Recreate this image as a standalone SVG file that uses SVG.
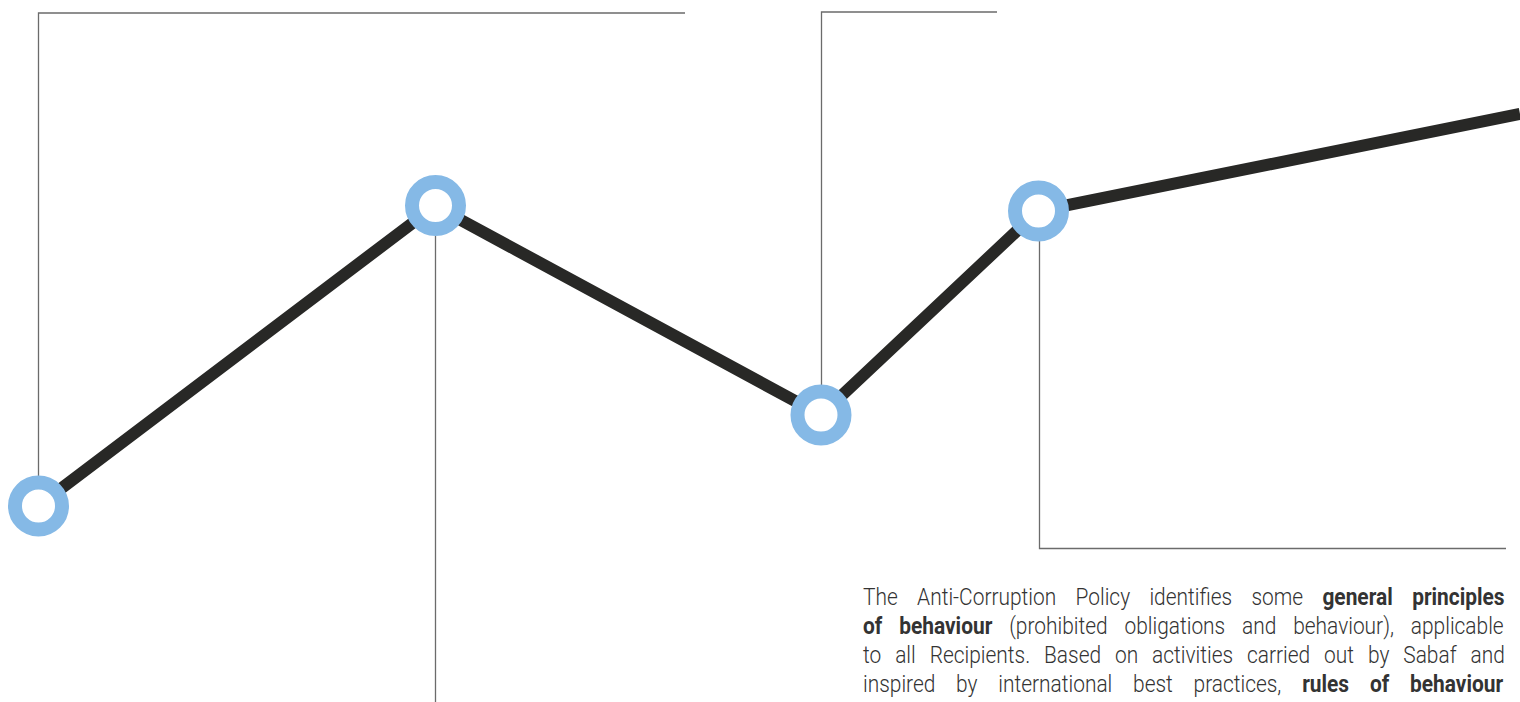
<svg xmlns="http://www.w3.org/2000/svg" width="1520" height="702" viewBox="0 0 1520 702">
<style>
.thin{fill:none;stroke:#6b6b6b;stroke-width:1.3}
.path{fill:none;stroke:#282826;stroke-width:12;stroke-linejoin:miter}
.ring{fill:#fff;stroke:#85b9e6;stroke-width:14}
.t{font-family:Roboto,"Liberation Sans",sans-serif;font-weight:300;font-size:23.5px;fill:#333}
.b{font-weight:700}
</style>
<rect width="1520" height="702" fill="#fff"/>
<g id="connectors">
<polyline class="thin" points="685,13 38.5,13 38.5,476"/>
<line class="thin" x1="435.5" y1="236" x2="435.5" y2="702"/>
<polyline class="thin" points="997,12 821.5,12 821.5,386"/>
<polyline class="thin" points="1039.5,241 1039.5,548.5 1506,548.5"/>
<polyline class="path" points="38,506 435,206 821,415 1038,211 1520,114"/>
</g>
<g id="node1"><circle class="ring" cx="38.5" cy="506" r="23.5"/></g>
<g id="node2"><circle class="ring" cx="435.5" cy="205.5" r="23.5"/></g>
<g id="node3"><circle class="ring" cx="821" cy="415" r="23.5"/></g>
<g id="node4"><circle class="ring" cx="1038.5" cy="211" r="23.5"/></g>
<g id="description" transform="translate(863,0) scale(0.89,1)">
<text class="t" x="0" y="605.5" word-spacing="16">The Anti-Corruption Policy identifies some <tspan class="b">general principles</tspan></text>
<text class="t" x="0" y="634.5" word-spacing="13.2"><tspan class="b">of behaviour</tspan> (prohibited obligations and behaviour), applicable</text>
<text class="t" x="0" y="663.5" word-spacing="9.9">to all Recipients. Based on activities carried out by Sabaf and</text>
<text class="t" x="0" y="692.5" word-spacing="17.6">inspired by international best practices, <tspan class="b">rules of behaviour</tspan></text>
</g>
</svg>
